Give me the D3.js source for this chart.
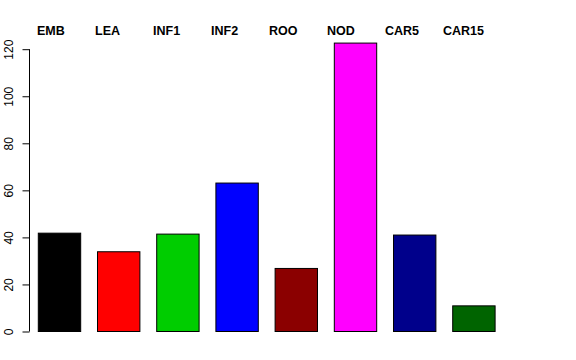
<!DOCTYPE html>
<html>
<head>
<meta charset="utf-8">
<script src="https://cdn.jsdelivr.net/npm/d3@7"></script>
<style>
  body { margin: 0; background: #fff; }
  text { font-family: "Liberation Sans", Arial, Helvetica, sans-serif; }
</style>
</head>
<body>
<svg id="plot" width="576" height="360"></svg>
<script>
// categories and their values
var categories = ["EMB", "LEA", "INF1", "INF2", "ROO", "NOD", "CAR5", "CAR15"];
var values = [41.8, 33.9, 41.4, 63.1, 26.8, 122.6, 41.0, 10.9];
var barColors = ["#000000", "#FF0000", "#00CD00", "#0000FF", "#8B0000", "#FF00FF", "#00008B", "#006400"];
var yTicks = [0, 20, 40, 60, 80, 100, 120];

var svg = d3.select("#plot");

// bar positions: width 1, space ~0.4
var x = d3.scaleBand()
    .domain(categories)
    .range([38.3, 495.1])
    .paddingInner(0.284)
    .paddingOuter(0);

var y = d3.scaleLinear().domain([0, 120]).range([331.5, 49.2]);

// label positions across the top
var xLab = d3.scalePoint().domain(categories).range([37, 443]);

// bars
svg.append("g")
    .selectAll("rect")
    .data(values)
    .enter().append("rect")
    .attr("x", function(d, i) { return x(categories[i]); })
    .attr("y", function(d) { return y(d); })
    .attr("width", x.bandwidth())
    .attr("height", function(d) { return y(0) - y(d); })
    .attr("fill", function(d, i) { return barColors[i]; })
    .attr("stroke", "#000")
    .attr("stroke-width", 1);

// y axis (R style: rotated labels)
var yAxis = svg.append("g")
    .attr("transform", "translate(29.5,0)")
    .call(d3.axisLeft(y).tickValues(yTicks).tickSize(7).tickPadding(0));

yAxis.select(".domain").attr("d", "M0," + y(0) + "V" + y(120)).attr("stroke", "#000");
yAxis.selectAll(".tick line").attr("stroke", "#000");
yAxis.selectAll(".tick text")
    .attr("font-size", 12)
    .attr("fill", "#000")
    .attr("text-anchor", "middle")
    .attr("x", null).attr("dy", null)
    .attr("transform", "translate(-16.5,0) rotate(-90)");

// category labels on top
svg.append("g")
    .selectAll("text")
    .data(categories)
    .enter().append("text")
    .attr("x", function(d) { return xLab(d); })
    .attr("y", 34.5)
    .attr("font-size", 12.5)
    .attr("font-weight", "bold")
    .attr("fill", "#000")
    .text(function(d) { return d; });
</script>
</body>
</html>
